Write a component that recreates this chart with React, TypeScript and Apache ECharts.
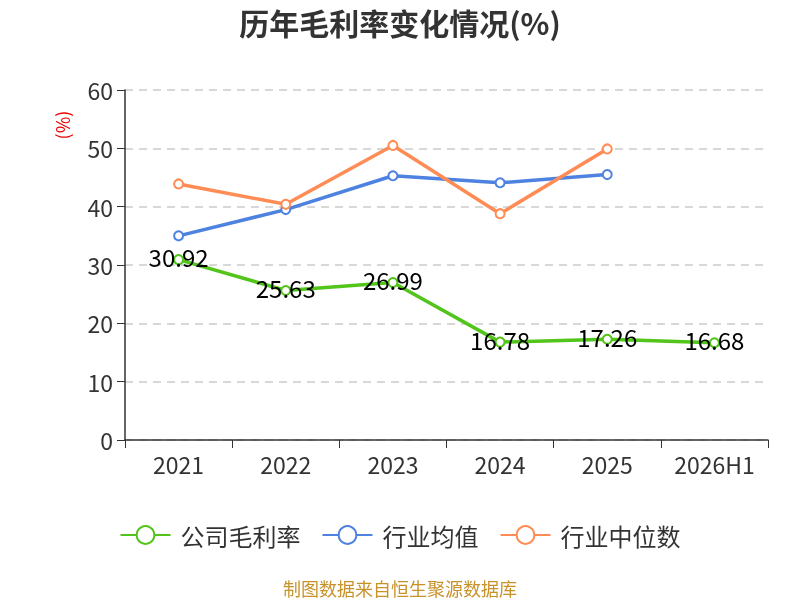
import { useEffect, useRef } from 'react';
import * as echarts from 'echarts';

const categories = ['2021', '2022', '2023', '2024', '2025', '2026H1'];
const companyMargin = [30.92, 25.63, 26.99, 16.78, 17.26, 16.68];
const industryAvg = [35.0, 39.5, 45.3, 44.1, 45.5, null];
const industryMedian = [43.9, 40.4, 50.5, 38.8, 49.9, null];

export default function App() {
  const elRef = useRef<HTMLDivElement | null>(null);

  useEffect(() => {
    if (!elRef.current) return;
    const chart = echarts.init(elRef.current, undefined, { renderer: 'svg' });
    const font = '"Noto Sans CJK SC", "Noto Sans", sans-serif';
    chart.setOption({
      animation: false,
      textStyle: { fontFamily: font },
      title: {
        text: '历年毛利率变化情况(%)',
        left: 'center',
        top: 2,
        textStyle: { fontSize: 30, fontWeight: 'bold', color: '#333', fontFamily: font },
      },
      grid: { left: 125, right: 32, top: 90, bottom: 160 },
      legend: {
        bottom: 48,
        left: 'center',
        itemWidth: 50,
        itemHeight: 22,
        itemGap: 21,
        textStyle: { fontSize: 24, color: '#333', fontFamily: font, padding: [0, 0, 0, 5] },
        data: ['公司毛利率', '行业均值', '行业中位数'],
      },
      graphic: [
        {
          type: 'text',
          x: 62,
          y: 125,
          rotation: Math.PI / 2,
          style: {
            text: '(%)',
            fill: '#e00',
            fontSize: 18,
            fontFamily: font,
            textAlign: 'center',
            textVerticalAlign: 'middle',
          },
        },
        {
          type: 'text',
          x: 400,
          y: 588,
          style: {
            text: '制图数据来自恒生聚源数据库',
            fill: '#c8922a',
            fontSize: 18,
            fontFamily: font,
            textAlign: 'center',
            textVerticalAlign: 'middle',
          },
        },
      ],
      xAxis: {
        type: 'category',
        data: categories,
        axisLine: { lineStyle: { color: '#333', width: 1.5 } },
        axisTick: { show: true, length: 8, lineStyle: { color: '#333' } },
        axisLabel: { fontSize: 23, color: '#333', margin: 12, interval: 0 },
      },
      yAxis: {
        type: 'value',
        min: 0,
        max: 60,
        interval: 10,
        axisLine: { show: true, lineStyle: { color: '#333', width: 1.5 } },
        axisTick: { show: true, length: 8, lineStyle: { color: '#333' } },
        axisLabel: { fontSize: 23, color: '#333', margin: 12 },
        splitLine: { lineStyle: { color: '#ccc', type: [8, 6], width: 1.5 } },
      },
      series: [
        {
          name: '公司毛利率',
          type: 'line',
          data: companyMargin,
          symbol: 'emptyCircle',
          symbolSize: 9,
          itemStyle: { color: '#52c41a' },
          lineStyle: { width: 3.5, color: '#52c41a' },
          label: {
            show: true,
            position: 'inside',
            offset: [0, -3],
            fontSize: 24,
            color: '#000',
            fontFamily: font,
          },
          z: 3,
        },
        {
          name: '行业均值',
          type: 'line',
          data: industryAvg,
          symbol: 'emptyCircle',
          symbolSize: 9,
          itemStyle: { color: '#4e82e0' },
          lineStyle: { width: 3.5, color: '#4e82e0' },
        },
        {
          name: '行业中位数',
          type: 'line',
          data: industryMedian,
          symbol: 'emptyCircle',
          symbolSize: 9,
          itemStyle: { color: '#ff8c55' },
          lineStyle: { width: 3.5, color: '#ff8c55' },
        },
      ],
    });
    return () => {
      chart.dispose();
    };
  }, []);

  return (
    <div
      ref={elRef}
      style={{ position: 'fixed', left: 0, top: 0, width: 800, height: 600 }}
    />
  );
}
